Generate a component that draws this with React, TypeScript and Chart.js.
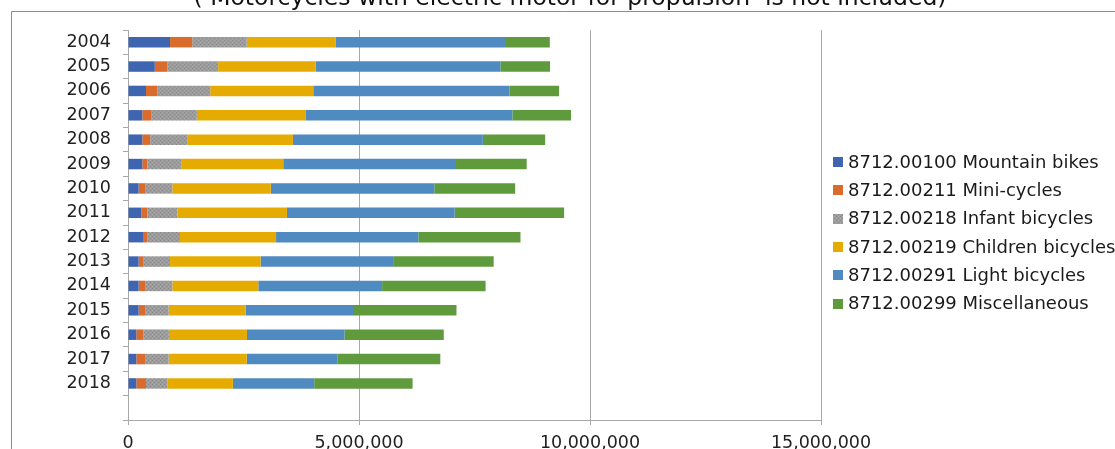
import React, { useEffect, useRef } from "react";
import { Chart, registerables } from "chart.js";

Chart.register(...registerables);

const years = ["2004", "2005", "2006", "2007", "2008", "2009", "2010", "2011", "2012", "2013", "2014", "2015", "2016", "2017", "2018"];
const categories = [...years, ""];

const seriesNames = [
  "8712.00100 Mountain bikes",
  "8712.00211 Mini-cycles",
  "8712.00218 Infant bicycles",
  "8712.00219 Children bicycles",
  "8712.00291 Light bicycles",
  "8712.00299 Miscellaneous",
];

const mountainBikes = [910000, 580000, 390000, 310000, 310000, 310000, 230000, 290000, 340000, 230000, 230000, 230000, 180000, 180000, 180000];
const miniCycles = [480000, 270000, 250000, 190000, 170000, 110000, 140000, 130000, 85000, 110000, 140000, 140000, 155000, 190000, 210000];
const infantBicycles = [1180000, 1100000, 1140000, 990000, 800000, 730000, 590000, 650000, 700000, 570000, 590000, 510000, 550000, 510000, 460000];
const childrenBicycles = [1920000, 2110000, 2230000, 2350000, 2290000, 2210000, 2130000, 2370000, 2080000, 1960000, 1860000, 1670000, 1690000, 1690000, 1420000];
const lightBicycles = [3670000, 4000000, 4250000, 4480000, 4110000, 3740000, 3540000, 3630000, 3080000, 2885000, 2680000, 2320000, 2110000, 1970000, 1760000];
const miscellaneous = [970000, 1075000, 1070000, 1270000, 1350000, 1530000, 1750000, 2370000, 2210000, 2160000, 2240000, 2240000, 2150000, 2220000, 2130000];

const xTicks = [0, 5000000, 10000000, 15000000];
const titleText = "( Motorcycles with electric motor for propulsion  is not included)";

const FONT = "'DejaVu Sans', sans-serif";

function grayPattern(): CanvasPattern | string {
  const c = document.createElement("canvas");
  c.width = 4;
  c.height = 4;
  const g = c.getContext("2d");
  if (!g) return "#999999";
  g.fillStyle = "#9c9c9c";
  g.fillRect(0, 0, 4, 4);
  g.fillStyle = "#8a8a8a";
  g.fillRect(0, 0, 1, 1);
  g.fillRect(2, 2, 1, 1);
  g.fillStyle = "#aaaaaa";
  g.fillRect(2, 0, 1, 1);
  g.fillRect(0, 2, 1, 1);
  const p = document.createElement("canvas").getContext("2d")!.createPattern(c, "repeat");
  return p || "#999999";
}

const framePlugin = {
  id: "frame",
  beforeDraw(chart: any) {
    const ctx = chart.ctx;
    ctx.save();
    ctx.strokeStyle = "#8c8c8c";
    ctx.lineWidth = 1;
    ctx.beginPath();
    ctx.moveTo(11.5, 460);
    ctx.lineTo(11.5, 11.5);
    ctx.lineTo(1200, 11.5);
    ctx.stroke();
    ctx.fillStyle = "#111111";
    ctx.font = `23.5px ${FONT}`;
    ctx.textAlign = "center";
    ctx.textBaseline = "alphabetic";
    ctx.fillText(titleText, 570, 5);
    ctx.restore();
  },
  afterDraw(chart: any) {
    const ctx = chart.ctx;
    ctx.save();
    ctx.font = `18px ${FONT}`;
    ctx.textBaseline = "middle";
    ctx.textAlign = "left";
    chart.data.datasets.forEach((ds: any, i: number) => {
      const y = 162 + i * 28.3;
      ctx.fillStyle = ds.backgroundColor;
      ctx.fillRect(833, Math.round(y - 5), 10, 10);
      ctx.fillStyle = "#1a1a1a";
      ctx.fillText(ds.label, 848, y + 1);
    });
    ctx.restore();
  },
};

export default function App() {
  const ref = useRef<HTMLCanvasElement | null>(null);

  useEffect(() => {
    if (!ref.current) return;
    const colors = ["#3f64b0", "#d96b2c", grayPattern(), "#e6ab00", "#4f8ac0", "#5f9b3d"];
    const values = [mountainBikes, miniCycles, infantBicycles, childrenBicycles, lightBicycles, miscellaneous];
    const chart = new Chart(ref.current, {
      type: "bar",
      data: {
        labels: categories,
        datasets: seriesNames.map((name, i) => ({
          label: name,
          data: values[i],
          backgroundColor: colors[i] as any,
          borderWidth: 0,
          barPercentage: 0.43,
          categoryPercentage: 1,
        })),
      },
      options: {
        indexAxis: "y",
        responsive: false,
        animation: false,
        layout: { padding: { top: 30, left: 0, right: 294, bottom: 0 } },
        plugins: {
          legend: { display: false },
          title: { display: false },
          tooltip: { enabled: false },
        },
        scales: {
          x: {
            stacked: true,
            min: 0,
            max: 15000000,
            afterBuildTicks(scale: any) {
              scale.ticks = xTicks.map((v) => ({ value: v }));
            },
            afterFit(scale: any) {
              scale.height = 29;
            },
            ticks: {
              color: "#222222",
              font: { family: FONT, size: 17.5 },
              padding: 8,
              maxRotation: 0,
              callback: (v: any) => Number(v).toLocaleString("en-US"),
            },
            grid: { color: "#a8a8a8", lineWidth: 1, drawTicks: true, tickLength: 5 },
            border: { display: true, color: "#a8a8a8" },
          },
          y: {
            stacked: true,
            offset: true,
            afterFit(scale: any) {
              scale.width = 128;
            },
            ticks: {
              color: "#222222",
              font: { family: FONT, size: 17.5 },
              padding: 12,
              autoSkip: false,
            },
            grid: { offset: true, drawOnChartArea: false, drawTicks: true, tickLength: 5, color: "#a8a8a8" },
            border: { display: true, color: "#a8a8a8" },
          },
        },
      },
      plugins: [framePlugin],
    });
    return () => chart.destroy();
  }, []);

  return (
    <div style={{ position: "absolute", left: 0, top: 0, width: 1115, height: 449, overflow: "hidden", background: "#ffffff" }}>
      <canvas ref={ref} width={1115} height={449} style={{ display: "block", width: 1115, height: 449 }} />
    </div>
  );
}
